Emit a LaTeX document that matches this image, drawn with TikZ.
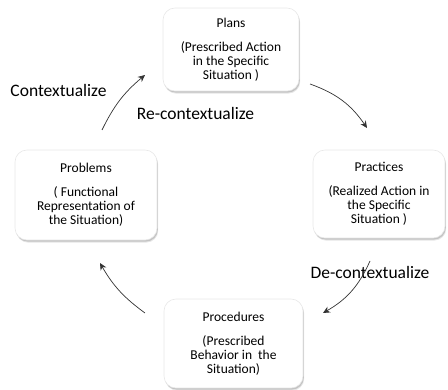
\documentclass[tikz,border=0pt]{standalone}
\usepackage{fontspec}
\setmainfont{Carlito}
\usetikzlibrary{arrows.meta,shadows}
\begin{document}
\begin{tikzpicture}[x=1pt,y=-1pt,
  box/.style={draw=gray!18, line width=0.6pt, fill=white, rounded corners=12pt,
    align=center, inner sep=0pt, font=\fontsize{13.5}{14}\selectfont,
    general shadow={shadow xshift=1.2pt, shadow yshift=-2.6pt, fill=black, opacity=0.10},
    general shadow={shadow xshift=0.8pt, shadow yshift=-1.6pt, fill=black, opacity=0.15}},
  lbl/.style={font=\fontsize{17.5}{20}\selectfont, inner sep=0pt},
  cyc/.style={draw=black!80, line width=0.7pt, -{Stealth[length=7pt,width=6.5pt]}}]
\useasboundingbox (0,0) rectangle (448,390);

\node[box, minimum width=136pt, minimum height=83pt] (plans) at (231,49.5)
  {Plans\\[10pt](Prescribed Action\\in the Specific\\Situation )};
\node[box, minimum width=132pt, minimum height=88pt] (practices) at (379,194)
  {Practices\\[10pt](Realized Action in\\the Specific\\Situation )};
\node[box, minimum width=142pt, minimum height=90pt] (problems) at (86,195)
  {Problems\\[10pt]( Functional\\Representation of\\the Situation)};
\node[box, minimum width=139pt, minimum height=89pt] (procedures) at (233.5,343.5)
  {Procedures\\[10pt](Prescribed\\Behavior in\ \ the\\Situation)};

\node[lbl] (ctx) at (58.5,90) {Contextualize};
\node[lbl] (rectx) at (195.5,113) {Re-contextualize};
\node[lbl] (dectx) at (370,272) {De-contextualize};

\coordinate (a1s) at (310,84);
\coordinate (a1e) at (367,128);
\coordinate (a2s) at (370,261);
\coordinate (a2e) at (323,313);
\coordinate (a3s) at (145,313);
\coordinate (a3e) at (100,263);
\coordinate (a4s) at (102,130);
\coordinate (a4e) at (145,75);

\draw[cyc] (a1s) to[bend left=18] (a1e);
\draw[cyc] (a2s) to[bend left=18] (a2e);
\draw[cyc] (a3s) to[bend left=12] (a3e);
\draw[cyc] (a4s) to[bend left=12] (a4e);
\end{tikzpicture}
\end{document}
